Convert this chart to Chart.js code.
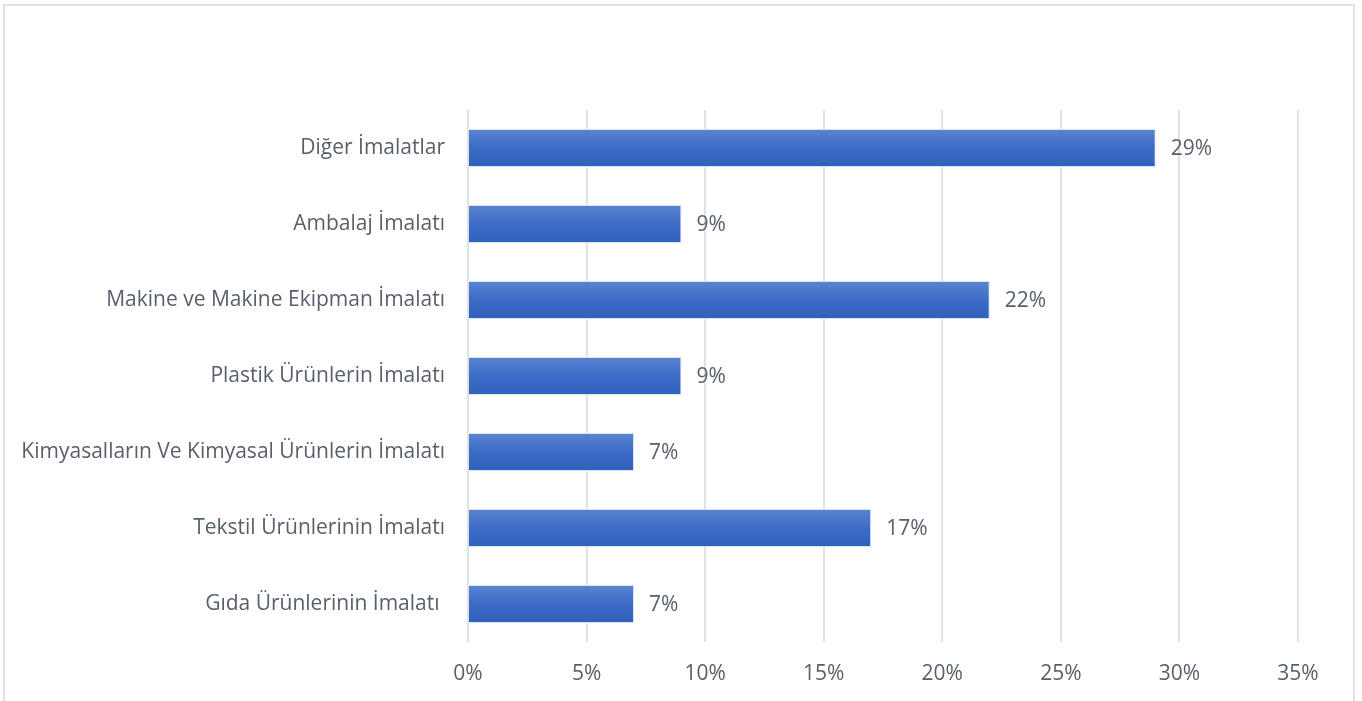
<!DOCTYPE html>
<html>
<head>
<meta charset="utf-8">
<script src="https://cdn.jsdelivr.net/npm/chart.js@4.4.1/dist/chart.umd.min.js"></script>
<style>
  html, body { margin: 0; padding: 0; background: #fff; overflow: hidden; }
  #frame { position: absolute; left: 3px; top: 4px; width: 1352px; height: 720px; border: 2px solid #dfe2e8; box-sizing: border-box; }
  #wrap { position: absolute; left: 0; top: 0; width: 1362px; height: 701px; }
</style>
</head>
<body>
<div id="frame"></div>
<div id="wrap"><canvas id="chart"></canvas></div>
<script>
// sectors (top to bottom as shown)
const categories = [
    'Diğer İmalatlar',
    'Ambalaj İmalatı',
    'Makine ve Makine Ekipman İmalatı',
    'Plastik Ürünlerin İmalatı',
    'Kimyasalların Ve Kimyasal Ürünlerin İmalatı',
    'Tekstil Ürünlerinin İmalatı',
    'Gıda Ürünlerinin İmalatı '
];
const shares = [29, 9, 22, 9, 7, 17, 7];
const tickValues = [0, 5, 10, 15, 20, 25, 30, 35];

const textColor = '#58606c';
const fontFamily = '"Open Sans", Lato, sans-serif';
const fontSize = 21;

// draw the "29%" style labels next to each bar
const valueLabels = {
    id: 'valueLabels',
    afterDatasetsDraw(chart) {
        const ctx = chart.ctx;
        const meta = chart.getDatasetMeta(0);
        ctx.save();
        ctx.font = fontSize + 'px ' + fontFamily;
        ctx.fillStyle = textColor;
        ctx.textBaseline = 'middle';
        ctx.textAlign = 'left';
        meta.data.forEach(function(bar, i) {
            ctx.fillText(shares[i] + '%', bar.x + 15, bar.y + 1);
        });
        ctx.restore();
    }
};

function barFill(context) {
    const chart = context.chart;
    const yScale = chart.scales && chart.scales.y;
    if (!chart.chartArea || !yScale) return '#3e6cc6';
    const cy = yScale.getPixelForValue(context.dataIndex);
    const h = yScale.height / categories.length * 0.5;
    if (!isFinite(cy) || !isFinite(h)) return '#3e6cc6';
    const g = chart.ctx.createLinearGradient(0, cy - h / 2, 0, cy + h / 2);
    g.addColorStop(0, '#5b84d0');
    g.addColorStop(0.5, '#3d6cc8');
    g.addColorStop(1, '#2e61bd');
    return g;
}

const ctx = document.getElementById('chart').getContext('2d');
new Chart(ctx, {
    type: 'bar',
    data: {
        labels: categories,
        datasets: [{
            data: shares,
            backgroundColor: barFill,
            borderColor: '#dbe3f3',
            borderWidth: 1,
            barPercentage: 0.5,
            categoryPercentage: 1
        }]
    },
    options: {
        indexAxis: 'y',
        responsive: true,
        maintainAspectRatio: false,
        animation: false,
        layout: { padding: { top: 110, right: 64, left: 0, bottom: 0 } },
        plugins: {
            legend: { display: false },
            tooltip: { enabled: false }
        },
        scales: {
            x: {
                min: 0,
                max: 35,
                afterBuildTicks: function(scale) {
                    scale.ticks = tickValues.map(v => ({ value: v }));
                },
                afterFit: function(scale) { scale.height = 59; },
                grid: { color: '#dde1e9', lineWidth: 2, drawTicks: false },
                border: { display: false },
                ticks: {
                    padding: 19,
                    color: textColor,
                    font: { size: fontSize, family: fontFamily },
                    callback: v => v + '%'
                }
            },
            y: {
                afterFit: function(scale) { scale.width = 468; },
                grid: { display: false, drawTicks: false },
                border: { display: false },
                ticks: {
                    padding: 23,
                    color: textColor,
                    font: { size: fontSize, family: fontFamily }
                }
            }
        }
    },
    plugins: [valueLabels]
});
</script>
</body>
</html>
